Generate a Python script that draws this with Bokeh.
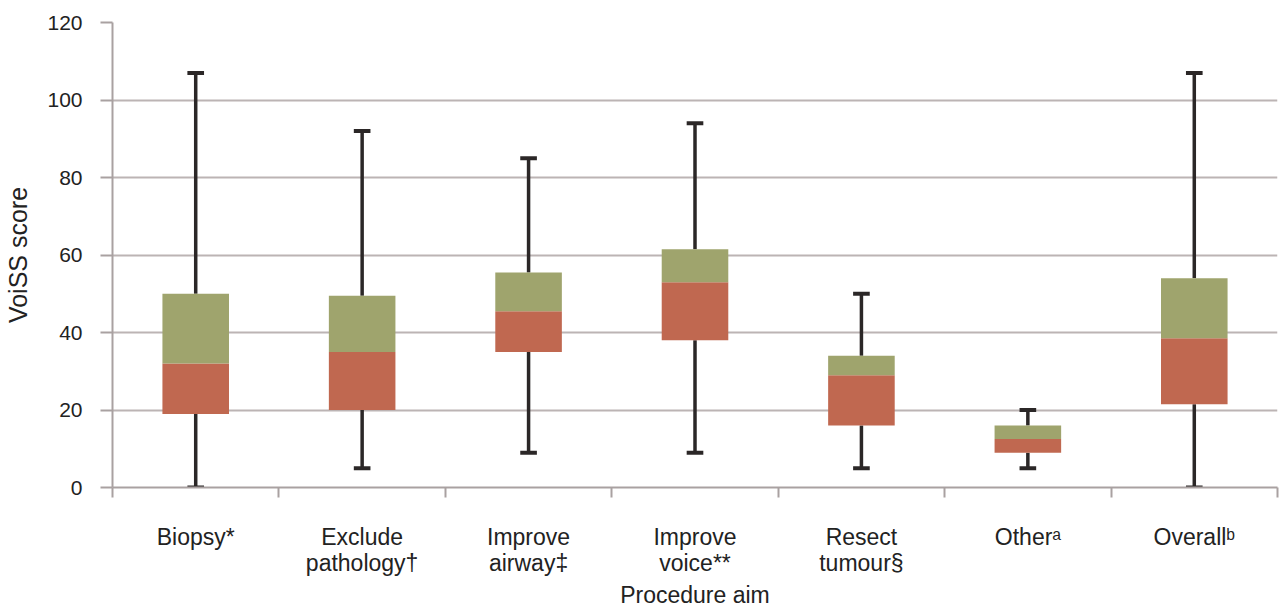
from bokeh.plotting import figure
from bokeh.models import FixedTicker, Range1d, ColumnDataSource
from bokeh.embed import file_html
from bokeh.resources import INLINE

# ---- data ----
categories = ["Biopsy*", "Exclude\npathology†", "Improve\nairway‡", "Improve\nvoice**",
              "Resect\ntumour§", "Otherᵃ", "Overallᵇ"]
mins    = [0,   5,    9,    9,    5,   5,    0]
q1s     = [19,  20,   35,   38,   16,  9,    21.5]
medians = [32,  35,   45.5, 53,   29,  12.5, 38.5]
q3s     = [50,  49.5, 55.5, 61.5, 34,  16,   54]
maxs    = [107, 92,   85,   94,   50,  20,   107]
y_ticks = [0, 20, 40, 60, 80, 100, 120]

GREEN = "#9fa46d"
RED = "#c06850"
WHISK = "#2b2727"
GRID = "#bcb4b4"
AXIS = "#a9a1a1"
FONT = "Liberation Sans"
TXT = "#222222"

n = len(categories)
xs = [i + 0.5 for i in range(n)]

src = ColumnDataSource(dict(x=xs, mn=mins, q1=q1s, med=medians, q3=q3s, mx=maxs,
                            cl=[x - 0.05 for x in xs], cr=[x + 0.05 for x in xs]))

p = figure(width=1280, height=610, output_backend="svg", toolbar_location=None,
           x_range=Range1d(0, n), y_range=Range1d(0, 120),
           min_border_left=112, min_border_right=3, min_border_top=22, min_border_bottom=123)
p.outline_line_color = None
p.background_fill_color = "white"
p.border_fill_color = "white"

# grid
p.xgrid.visible = False
p.ygrid.ticker = FixedTicker(ticks=y_ticks)
p.ygrid.grid_line_color = GRID
p.ygrid.grid_line_width = 2

# whiskers
p.segment(x0="x", y0="mn", x1="x", y1="q1", source=src, line_color=WHISK, line_width=3.5)
p.segment(x0="x", y0="q3", x1="x", y1="mx", source=src, line_color=WHISK, line_width=3.5)
p.segment(x0="cl", y0="mn", x1="cr", y1="mn", source=src, line_color=WHISK, line_width=4)
p.segment(x0="cl", y0="mx", x1="cr", y1="mx", source=src, line_color=WHISK, line_width=4)

# boxes
p.vbar(x="x", bottom="q1", top="med", width=0.4, source=src, fill_color=RED, line_color=None)
p.vbar(x="x", bottom="med", top="q3", width=0.4, source=src, fill_color=GREEN, line_color=None)

# y axis
ya = p.yaxis[0]
ya.ticker = FixedTicker(ticks=y_ticks)
ya.axis_line_color = AXIS
ya.axis_line_width = 2
ya.major_tick_line_color = AXIS
ya.major_tick_line_width = 2
ya.major_tick_out = 12
ya.major_tick_in = 0
ya.minor_tick_line_color = None
ya.major_label_text_font = FONT
ya.major_label_text_font_size = "21px"
ya.major_label_text_color = TXT
ya.major_label_standoff = 18
ya.axis_label = "VoiSS score"
ya.axis_label_text_font = FONT
ya.axis_label_text_font_size = "25px"
ya.axis_label_text_font_style = "normal"
ya.axis_label_text_color = TXT
ya.axis_label_standoff = 12

# x axis: labels at category centres, tick marks at category boundaries
xa = p.xaxis[0]
xa.ticker = FixedTicker(ticks=xs, minor_ticks=list(range(n + 1)))
xa.major_label_overrides = {x: c for x, c in zip(xs, categories)}
xa.axis_line_color = AXIS
xa.axis_line_width = 2
xa.major_tick_line_color = None
xa.major_tick_out = 0
xa.major_tick_in = 0
xa.minor_tick_line_color = AXIS
xa.minor_tick_line_width = 2
xa.minor_tick_out = 10
xa.minor_tick_in = 0
xa.major_label_text_font = FONT
xa.major_label_text_font_size = "23px"
xa.major_label_text_line_height = 1.0
xa.major_label_text_color = TXT
xa.major_label_standoff = 26
xa.axis_label = "Procedure aim"
xa.axis_label_text_font = FONT
xa.axis_label_text_font_size = "23px"
xa.axis_label_text_font_style = "normal"
xa.axis_label_text_color = TXT
xa.axis_label_standoff = 3

open("out.html", "w").write(file_html(p, INLINE))
